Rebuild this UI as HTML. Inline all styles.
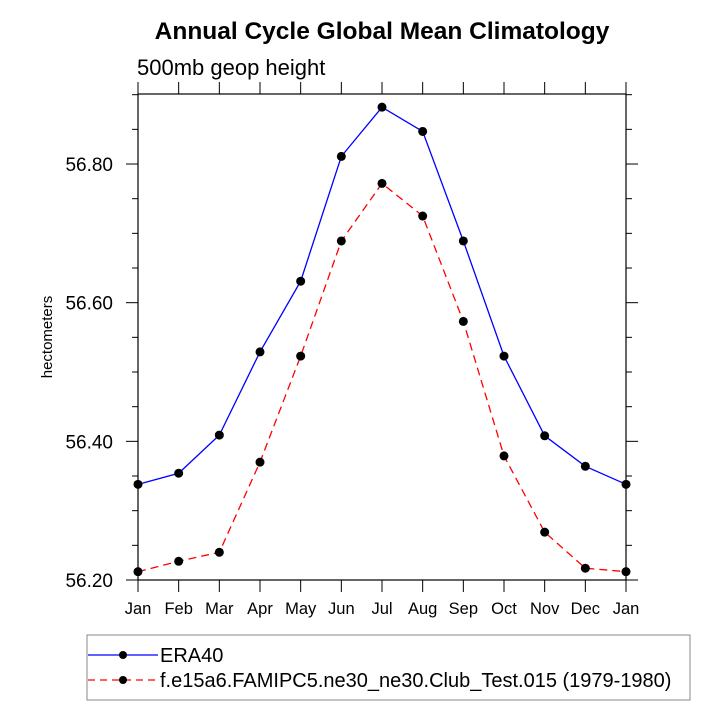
<!DOCTYPE html>
<html><head><meta charset="utf-8"><style>body{margin:0;background:#fff}svg{font-family:"Liberation Sans",sans-serif}</style></head>
<body>
<svg id="c" width="720" height="720">
<text x="382" y="39" font-size="24.5" font-weight="bold" text-anchor="middle">Annual Cycle Global Mean Climatology</text>
<text x="137" y="75" font-size="22">500mb geop height</text>
<text transform="translate(52,337) rotate(-90)" font-size="15" text-anchor="middle">hectometers</text>
<g id="g"></g>
<rect x="87" y="635" width="603" height="65" fill="none" stroke="#888" stroke-width="1"/>
<g>
<line x1="88" y1="655" x2="158" y2="655" stroke="#00f" stroke-width="1.2"/><circle cx="123" cy="655" r="4" fill="#000"/>
<text x="160" y="662" font-size="20">ERA40</text></g>
<g>
<line x1="88" y1="680" x2="158" y2="680" stroke="#f00" stroke-width="1.2" stroke-dasharray="7,5"/><circle cx="123" cy="680" r="4" fill="#000"/>
<text x="160" y="687" font-size="20">f.e15a6.FAMIPC5.ne30_ne30.Club_Test.015 (1979-1980)</text></g>
</svg>
<script>
const months=["Jan","Feb","Mar","Apr","May","Jun","Jul","Aug","Sep","Oct","Nov","Dec","Jan"];
const era40=[56.338,56.354,56.409,56.529,56.631,56.811,56.882,56.847,56.689,56.523,56.408,56.364,56.338];
const model=[56.212,56.227,56.240,56.370,56.523,56.689,56.772,56.725,56.573,56.379,56.269,56.217,56.212];
const yTicks=[56.20,56.40,56.60,56.80];
const L=138,R=626,T=94,B=580,ymin=56.2,ymax=56.901;
const xs=i=>L+(R-L)*i/(months.length-1);
const ys=v=>B-(v-ymin)/(ymax-ymin)*(B-T);
const ns="http://www.w3.org/2000/svg",g=document.getElementById('g');
function mk(t,a,p){const e=document.createElementNS(ns,t);for(const k in a)e.setAttribute(k,a[k]);(p||g).appendChild(e);return e;}
let r=mk('rect',{x:L,y:T,width:R-L,height:B-T,fill:'none',stroke:'#000','stroke-width':1.2});


months.forEach((m,i)=>{const x=xs(i);
mk('line',{x1:x,y1:B,x2:x,y2:B+12,stroke:'#000'});mk('line',{x1:x,y1:T,x2:x,y2:T-12,stroke:'#000'});
const t=mk('text',{x:x,y:B+34,'font-size':16.5,'text-anchor':'middle'});t.textContent=m;

});
for(let v=56.2;v<=ymax+1e-9;v+=0.05){const y=ys(v);const maj=Math.round(v*100)%20==0;const len=maj?12:6;
mk('line',{x1:L,y1:y,x2:L-len,y2:y,stroke:'#000'});mk('line',{x1:R,y1:y,x2:R+len,y2:y,stroke:'#000'});}
yTicks.forEach(v=>{const t=mk('text',{x:L-25,y:ys(v)+7,'font-size':19,'text-anchor':'end'});t.textContent=v.toFixed(2);

});
function series(d,col,dash,name){const p=mk('polyline',{points:d.map((v,i)=>xs(i)+','+ys(v)).join(' '),fill:'none',stroke:col,'stroke-width':1.3,'stroke-dasharray':dash});


d.forEach((v,i)=>{const c=mk('circle',{cx:xs(i),cy:ys(v),r:4.5,fill:'#000'});

});}
series(era40,'#00f','none','era40');
series(model,'#f00','8,5','model');
</script>
</body></html>
